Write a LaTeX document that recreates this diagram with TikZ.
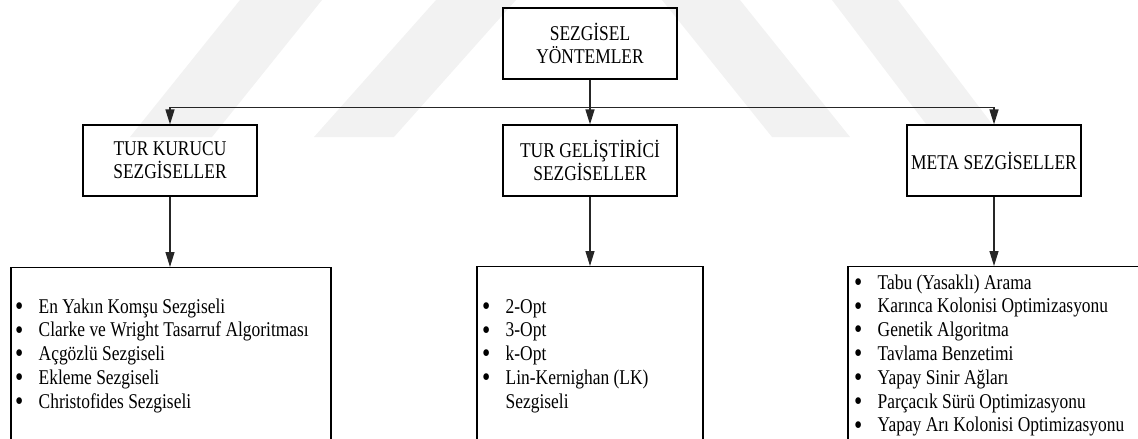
\documentclass[tikz,border=0pt]{standalone}
\usepackage{fontspec}
\setmainfont{Liberation Serif}[FakeStretch=0.83]
\usetikzlibrary{arrows.meta}

\begin{document}
\begin{tikzpicture}[x=1pt, y=-1pt,
  txt/.style={font=\fontsize{21}{23}\selectfont},
  box/.style={txt, draw=black, line width=1.2pt, inner sep=0pt, align=center,
              minimum width=174pt, minimum height=71pt},
  listbox/.style={draw=black, line width=1.2pt, inner sep=0pt},
  listtext/.style={font=\fontsize{21}{23.8}\selectfont, inner sep=0pt, anchor=base west},
  link/.style={line width=1.3pt, draw=black!85},
  arrow/.style={link, -{Triangle[length=15pt,width=9pt]}},
  band/.style={fill=black!5, draw=none}]

\useasboundingbox (0,0) rectangle (1138,439);
\clip (0,0) rectangle (1138,439);

% faint background emblem
\fill[band] (240,0) -- (322,0) -- (212,137) -- (130,137) -- cycle;
\fill[band] (436,0) -- (516,0) -- (394,137) -- (314,137) -- cycle;
\fill[band] (662,0) -- (740,0) -- (850,137) -- (772,137) -- cycle;
\fill[band] (832,0) -- (898,0) -- (992,124) -- (926,124) -- cycle;

% boxes
\node[box] (root) at (590,43.5) {SEZGİSEL\\YÖNTEMLER};
\node[box] (build) at (170,160.5) {TUR KURUCU\\SEZGİSELLER};
\node[box] (improve) at (590,160.5) {TUR GELİŞTİRİCİ\\SEZGİSELLER};
\node[box] (meta) at (994,160.5) {META SEZGİSELLER};

\node[listbox, minimum width=320pt, minimum height=200pt, anchor=north] (buildlist) at (171,267) {};
\node[listbox, minimum width=226pt, minimum height=200pt, anchor=north] (improvelist) at (590,266) {};
\node[listbox, minimum width=302pt, minimum height=200pt, anchor=north] (metalist) at (999,266) {};

% list contents
\newcommand{\itm}{\makebox[23.5pt][l]{\raisebox{-2.3pt}{\scalebox{1.35}{\textbullet}}}}
\node[listtext] (buildtext) at (15,313) {\begin{tabular}[t]{@{}l@{}}
\itm En Yakın Komşu Sezgiseli\\
\itm Clarke ve Wright Tasarruf Algoritması\\
\itm Açgözlü Sezgiseli\\
\itm Ekleme Sezgiseli\\
\itm Christofides Sezgiseli
\end{tabular}};
\node[listtext] (improvetext) at (482,313) {\begin{tabular}[t]{@{}l@{}}
\itm 2-Opt\\
\itm 3-Opt\\
\itm k-Opt\\
\itm Lin-Kernighan (LK)\\
\hspace*{23.5pt}Sezgiseli
\end{tabular}};
\node[listtext] (metatext) at (854,289) {\begin{tabular}[t]{@{}l@{}}
\itm Tabu (Yasaklı) Arama\\
\itm Karınca Kolonisi Optimizasyonu\\
\itm Genetik Algoritma\\
\itm Tavlama Benzetimi\\
\itm Yapay Sinir Ağları\\
\itm Parçacık Sürü Optimizasyonu\\
\itm Yapay Arı Kolonisi Optimizasyonu
\end{tabular}};

% connectors
\path (build.north) ++(0,-17) coordinate (busL);
\path (meta.north) ++(0,-17) coordinate (busR);
\draw[link] (busL) -- (busR);
\draw[arrow] (root.south) -- (improve.north);
\draw[arrow] (busL) -- (build.north);
\draw[arrow] (busR) -- (meta.north);
\draw[arrow] (build.south) -- (build.south |- buildlist.north);
\draw[arrow] (improve.south) -- (improve.south |- improvelist.north);
\draw[arrow] (meta.south) -- (meta.south |- metalist.north);
\end{tikzpicture}
\end{document}
